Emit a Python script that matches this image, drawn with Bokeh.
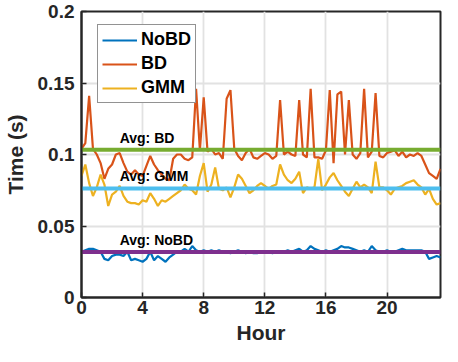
import numpy as np
from bokeh.plotting import figure
from bokeh.models import FixedTicker, CustomJSTickFormatter, Range1d
from bokeh.core.properties import value
from bokeh.embed import file_html
from bokeh.resources import INLINE

# ---------------- data ----------------
hours = [i * 0.25 for i in range(95)]  # 0 .. 23.5 h, 15-min steps

nobd = [0.032, 0.033, 0.034, 0.034, 0.033, 0.032, 0.027, 0.026, 0.029, 0.030,
        0.030, 0.029, 0.032, 0.026, 0.027, 0.026, 0.025, 0.027, 0.032, 0.026,
        0.029, 0.027, 0.025, 0.028, 0.030, 0.032, 0.032, 0.034, 0.032, 0.036,
        0.033, 0.032, 0.033, 0.032, 0.033, 0.032, 0.033, 0.032, 0.032, 0.031,
        0.032, 0.033, 0.032, 0.031, 0.032, 0.031, 0.031, 0.032, 0.032, 0.032,
        0.031, 0.032, 0.032, 0.032, 0.033, 0.032, 0.033, 0.034, 0.032, 0.033,
        0.036, 0.034, 0.033, 0.032, 0.033, 0.032, 0.033, 0.034, 0.036, 0.035,
        0.035, 0.034, 0.033, 0.032, 0.033, 0.032, 0.036, 0.033, 0.032, 0.032,
        0.033, 0.032, 0.032, 0.033, 0.034, 0.033, 0.033, 0.033, 0.033, 0.033,
        0.032, 0.027, 0.028, 0.029, 0.028]

bd = [0.104, 0.108, 0.141, 0.104, 0.100, 0.094, 0.083, 0.090, 0.093, 0.100,
      0.101, 0.094, 0.088, 0.086, 0.089, 0.086, 0.085, 0.092, 0.099, 0.093,
      0.089, 0.086, 0.083, 0.082, 0.097, 0.100, 0.100, 0.097, 0.096, 0.098,
      0.146, 0.103, 0.140, 0.102, 0.104, 0.100, 0.101, 0.097, 0.139, 0.145,
      0.104, 0.099, 0.096, 0.101, 0.104, 0.098, 0.097, 0.099, 0.101, 0.100,
      0.097, 0.099, 0.138, 0.100, 0.102, 0.100, 0.099, 0.138, 0.100, 0.098,
      0.146, 0.098, 0.098, 0.097, 0.103, 0.145, 0.094, 0.142, 0.144, 0.100,
      0.138, 0.100, 0.097, 0.101, 0.146, 0.098, 0.102, 0.143, 0.099, 0.098,
      0.101, 0.102, 0.103, 0.099, 0.102, 0.098, 0.100, 0.099, 0.101, 0.099,
      0.093, 0.087, 0.085, 0.083, 0.090]

gmm = [0.085, 0.093, 0.080, 0.071, 0.077, 0.086, 0.079, 0.064, 0.072, 0.074,
       0.078, 0.071, 0.067, 0.066, 0.066, 0.065, 0.068, 0.067, 0.073, 0.069,
       0.064, 0.068, 0.067, 0.069, 0.071, 0.073, 0.075, 0.079, 0.076, 0.075,
       0.072, 0.085, 0.094, 0.074, 0.079, 0.091, 0.076, 0.075, 0.077, 0.070,
       0.077, 0.086, 0.083, 0.078, 0.073, 0.075, 0.078, 0.080, 0.078, 0.076,
       0.078, 0.079, 0.093, 0.086, 0.082, 0.080, 0.083, 0.088, 0.073, 0.077,
       0.076, 0.077, 0.097, 0.075, 0.079, 0.084, 0.087, 0.082, 0.078, 0.074,
       0.071, 0.076, 0.081, 0.077, 0.079, 0.077, 0.073, 0.095, 0.077, 0.077,
       0.075, 0.072, 0.076, 0.077, 0.078, 0.080, 0.081, 0.082, 0.079, 0.077,
       0.072, 0.076, 0.069, 0.065, 0.066]

series_names = ["NoBD", "BD", "GMM"]
series_values = [nobd, bd, gmm]
avg_values = [0.0318, 0.1033, 0.0763]
avg_labels = ["Avg: NoBD", "Avg: BD", "Avg: GMM"]

x_ticks = [0, 4, 8, 12, 16, 20]
y_ticks = [0, 0.05, 0.1, 0.15, 0.2]

# ---------------- styles ----------------
series_colors = ["#0072BD", "#D95319", "#EDB120"]
avg_colors = ["#7E2F8E", "#77AC30", "#4DBEEE"]
FONT = "Liberation Sans"
DARK = "#262626"

p = figure(width=442, height=346, output_backend="svg", toolbar_location=None,
           title=None, x_range=Range1d(0, 23.5), y_range=Range1d(0, 0.2),
           min_border_left=74, min_border_right=2, min_border_top=11,
           min_border_bottom=46, background_fill_color="white",
           border_fill_color="white", outline_line_color=DARK,
           outline_line_width=2)

for name, vals, col in zip(series_names, series_values, series_colors):
    p.line(hours, vals, line_color=col, line_width=2.2, legend_label=name)

for av, col in zip(avg_values, avg_colors):
    p.line([hours[0], hours[-1]], [av, av], line_color=col, line_width=4)

p.text(x=[2.5] * 3, y=[a + 0.0085 for a in avg_values], text=avg_labels,
       text_font=value(FONT), text_font_style="bold", text_font_size="14px",
       text_color="#000000", text_baseline="middle", text_align="left")

# axes
p.xaxis.ticker = FixedTicker(ticks=x_ticks)
p.yaxis.ticker = FixedTicker(ticks=y_ticks)
p.yaxis.formatter = CustomJSTickFormatter(code="return Number(tick.toFixed(2)).toString();")
p.xaxis.axis_label = "Hour"
p.yaxis.axis_label = "Time (s)"
for ax in [p.xaxis[0], p.yaxis[0]]:
    ax.axis_line_color = DARK
    ax.axis_line_width = 2
    ax.major_tick_line_color = DARK
    ax.major_tick_line_width = 1.5
    ax.major_tick_in = 5
    ax.major_tick_out = 0
    ax.minor_tick_line_color = None
    ax.major_label_text_font = FONT
    ax.major_label_text_font_style = "bold"
    ax.major_label_text_font_size = "19px"
    ax.major_label_text_color = DARK
    ax.axis_label_text_font = FONT
    ax.axis_label_text_font_style = "bold"
    ax.axis_label_text_font_size = "21px"
    ax.axis_label_text_color = DARK
p.xaxis.major_label_standoff = 3
p.xaxis.axis_label_standoff = 4
p.yaxis.major_label_standoff = 7
p.yaxis.axis_label_standoff = 8

p.xgrid.ticker = FixedTicker(ticks=x_ticks)
p.ygrid.ticker = FixedTicker(ticks=y_ticks)
p.grid.grid_line_color = "#e2e2e2"
p.grid.grid_line_width = 1.8

lg = p.legend[0]
lg.location = (16, 194)
lg.margin = 0
lg.padding = 4
lg.spacing = 3
lg.glyph_width = 35
lg.glyph_height = 20
lg.label_height = 20
lg.label_standoff = 4
lg.label_text_font = FONT
lg.label_text_font_style = "bold"
lg.label_text_font_size = "18px"
lg.label_text_color = "#000000"
lg.border_line_color = DARK
lg.border_line_width = 1.5
lg.background_fill_color = "white"
lg.background_fill_alpha = 1.0

open("out.html", "w").write(file_html(p, INLINE))
